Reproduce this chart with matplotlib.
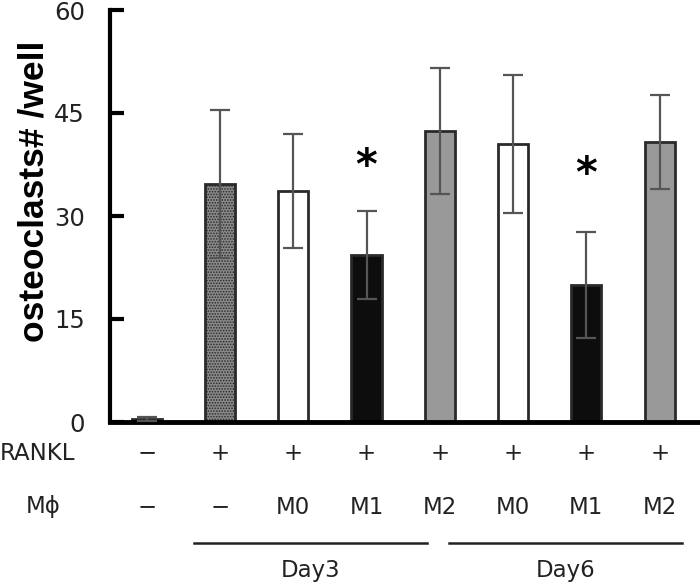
import matplotlib
matplotlib.use("Agg")
import matplotlib.pyplot as plt
from matplotlib.transforms import blended_transform_factory

# ---- data ----
means = [0.5, 34.7, 33.7, 24.3, 42.4, 40.5, 20.0, 40.8]
errs = [0.3, 10.8, 8.3, 6.4, 9.2, 10.1, 7.7, 6.8]
rankl = ["\u2212", "+", "+", "+", "+", "+", "+", "+"]
mphi = ["\u2212", "\u2212", "M0", "M1", "M2", "M0", "M1", "M2"]
star_bars = [3, 6]
star_heights = [37.2, 35.9]
groups = ["Day3", "Day6"]
group_spans = [(0.65, 3.83), (4.13, 7.31)]
yticks = [0, 15, 30, 45, 60]

facecolors = ["#555555", "#8a8a8a", "white", "#0d0d0d", "#999999", "white", "#0d0d0d", "#999999"]
hatches = [None, "......", None, None, None, None, None, None]

plt.rcParams['hatch.linewidth'] = 0.8
plt.rcParams['hatch.color'] = '#333333'

fig = plt.figure(figsize=(7, 5.86), dpi=100)
ax = fig.add_axes([110/700, 164/586, 590/700, 412/586])

x = list(range(len(means)))
bars = ax.bar(x, means, width=0.41, color=facecolors, edgecolor="#2a2a2a",
              linewidth=2, zorder=2)
for b, h in zip(bars, hatches):
    if h:
        b.set_hatch(h)
ax.errorbar(x, means, yerr=errs, fmt="none", ecolor="#555555", elinewidth=1.6,
            capsize=7, capthick=1.6, zorder=3)

for xi, yh in zip(star_bars, star_heights):
    ax.text(xi, yh, "*", ha="center", va="center", fontsize=30,
            fontweight="bold", color="black", family="DejaVu Sans")

ax.set_xlim(-0.5, 7.55)
ax.set_ylim(0, 60)
ax.set_yticks(yticks)
ax.set_yticklabels([str(t) for t in yticks], fontsize=17.5, family="DejaVu Sans",
                   color="#222222")
ax.tick_params(axis="y", direction="in", length=10, width=3, pad=18)
ax.set_xticks([])
for sp in ["top", "right"]:
    ax.spines[sp].set_visible(False)
ax.spines["left"].set_linewidth(3)
ax.spines["bottom"].set_linewidth(3.5)

ax.set_ylabel("osteoclasts# /well", fontsize=25.5, fontweight="bold",
              family="Liberation Sans")
ax.yaxis.set_label_coords(-0.100, 0.56)

tr = blended_transform_factory(ax.transData, fig.transFigure)
row_font = dict(fontsize=16.5, family="DejaVu Sans", color="#222222")
y_rankl = 1 - 453/586
y_mphi = 1 - 507/586
y_line = 1 - 543/586
y_day = 1 - 571/586
fig.text(0.0, y_rankl, "RANKL", ha="left", va="center", **row_font)
fig.text(43/700, y_mphi, "M\u03d5", ha="center", va="center", **row_font)
for xi, r, m in zip(x, rankl, mphi):
    ax.text(xi, y_rankl, r, transform=tr, ha="center", va="center", **row_font)
    ax.text(xi, y_mphi, m, transform=tr, ha="center", va="center", **row_font)
for g, (a, b) in zip(groups, group_spans):
    ax.plot([a, b], [y_line, y_line], transform=tr, color="#222222", lw=1.8,
            clip_on=False)
    ax.text((a + b) / 2, y_day, g, transform=tr, ha="center", va="center", **row_font)

fig.savefig("out.png", dpi=100)
